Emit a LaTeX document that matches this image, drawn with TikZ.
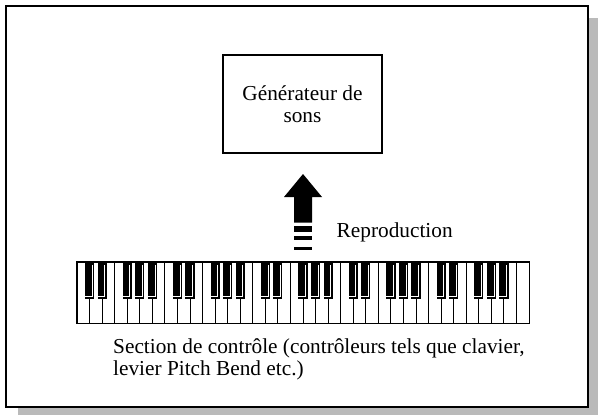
\documentclass[tikz,border=0pt]{standalone}
\usepackage{fontspec}
\setmainfont{Liberation Serif}
\usetikzlibrary{positioning}

\begin{document}
\begin{tikzpicture}[x=1pt,y=-1pt,
  txt/.style={inner sep=0pt,font=\fontsize{21.3}{22.5}\selectfont},
  frame/.style={draw=black,line width=2pt,fill=white},
  genbox/.style={draw=black,line width=2.2pt,minimum width=159pt,minimum height=98pt,align=center},
  keyboard/.style={fill=white,minimum width=452pt,minimum height=61pt,inner sep=0pt}]
\useasboundingbox (0,0) rectangle (598,415);
\fill[black!27] (18,18) rectangle (598,415);
\draw[frame] (6,6) rectangle (588,407);

\node[genbox,txt] (gen) at (302.5,104) {Générateur de\\sons};

% clavier
\node[keyboard] (kbd) at (303,292.5) {};
\foreach \k in {1,...,35}
  \draw[line width=1pt] ({77+\k*12.556},262) -- ({77+\k*12.556},323);
\foreach \o in {0,...,4}
  \foreach \b in {1,2,4,5,6} {
    \pgfmathsetmacro\bx{77+(7*\o+\b)*12.556}
    \fill (\bx-4.6,262) rectangle (\bx+4.6,298.5);
    \draw[white,line width=0.8pt] (\bx+2.6,265) -- (\bx+2.6,296.2) -- (\bx-4.6,296.2);
  }
\draw[line width=1.4pt] (kbd.north west) rectangle (kbd.south east);

% fleche
\coordinate (tip) at (303,174);
\fill (tip) -- (284,197) -- (294,197) -- (294,222.5) -- (312,222.5) -- (312,197) -- (322,197) -- cycle;
\fill (294,225.7) rectangle (312,231.7);
\fill (294,236) rectangle (312,239.5);
\fill (294,246.5) rectangle (312,249.5);

\node[txt,anchor=base west] (repro) at (336.5,237) {Reproduction};
\node[txt,anchor=base west,align=left] (ctrl) at (113,375.5)
  {Section de contrôle (contrôleurs tels que clavier,\\levier Pitch Bend etc.)};
\end{tikzpicture}
\end{document}
